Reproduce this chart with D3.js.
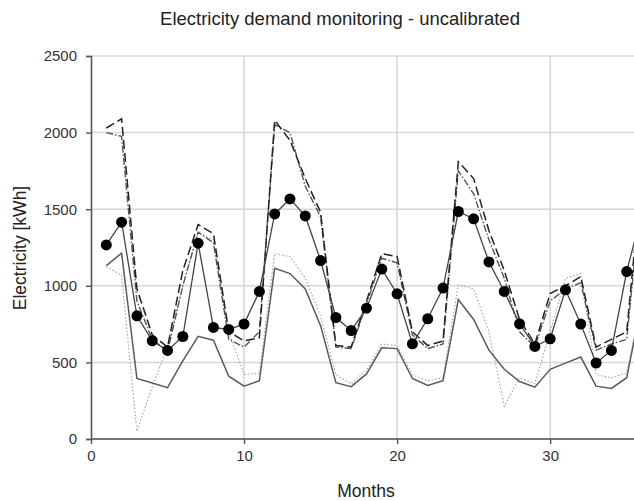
<!DOCTYPE html>
<html><head><meta charset="utf-8">
<script src="https://cdn.jsdelivr.net/npm/d3@7"></script>
<style>body{margin:0;background:#fff}svg{display:block}text{font-family:"Liberation Sans",Arial,sans-serif}</style>
</head><body><svg id="c" width="634" height="501"></svg>
<script>
const months = d3.range(1, 37);
const measured = [1267,1415,804,641,578,669,1278,728,715,750,963,1469,1567,1456,1165,793,708,854,1109,948,621,785,985,1485,1437,1156,963,752,604,654,974,750,496,578,1093,1480];
const simSolid = [1132,1213,395,365,335,510,670,645,410,345,380,1115,1080,980,740,368,342,425,595,590,395,350,380,910,780,580,455,375,338,455,495,535,345,330,400,900];
const simDotted = [1125,1070,50,340,600,1000,1350,1300,700,420,430,1210,1190,1050,800,420,360,450,620,610,420,380,400,1005,980,700,215,400,360,700,1050,1080,420,400,430,900];
const simDash = [2030,2090,980,680,600,1100,1400,1340,700,640,660,2080,1950,1700,1480,610,600,900,1210,1190,700,610,640,1810,1700,1360,1100,780,620,950,1000,1060,600,650,700,1750];
const simDashDot = [2000,1975,900,650,570,1000,1350,1280,650,600,700,2050,2000,1650,1450,600,590,880,1180,1150,680,590,620,1750,1600,1300,1050,700,600,900,980,1020,580,620,650,1650];
const yTicks = [0,500,1000,1500,2000,2500];
const xTicks = [0,10,20,30];

const svg = d3.select("#c");
const x = d3.scaleLinear().domain([0,36]).range([91,642]);
const y = d3.scaleLinear().domain([0,2500]).range([439,56]);

// grid
svg.append("g").selectAll("line").data(yTicks).join("line")
  .attr("x1",91).attr("x2",634).attr("y1",d=>y(d)).attr("y2",d=>y(d))
  .attr("stroke","#d6d6d6").attr("stroke-width",1.5);
svg.append("g").selectAll("line").data(xTicks.filter(d=>d>0)).join("line")
  .attr("x1",d=>x(d)).attr("x2",d=>x(d)).attr("y1",56).attr("y2",439)
  .attr("stroke","#d6d6d6").attr("stroke-width",1.5);

// axes
const fmt = d3.format("d");
const ya = svg.append("g").attr("transform","translate(91,0)")
  .call(d3.axisLeft(y).tickValues(yTicks).tickFormat(fmt).tickSize(5).tickPadding(9));
const xa = svg.append("g").attr("transform","translate(0,439)")
  .call(d3.axisBottom(x).tickValues(xTicks).tickFormat(fmt).tickSize(5).tickPadding(6));
[ya,xa].forEach(a=>{
  a.select(".domain").attr("stroke","#555").attr("stroke-width",1.6);
  a.selectAll(".tick line").attr("stroke","#555").attr("stroke-width",1.4);
  a.selectAll(".tick text").attr("fill","#333").style("font-size","15px").style("font-family","'Liberation Sans',Arial,sans-serif");
});
xa.select(".domain").attr("d","M91,0H634");

svg.append("clipPath").attr("id","pc").append("rect")
  .attr("x",91).attr("y",40).attr("width",543).attr("height",400);
const plot = svg.append("g").attr("clip-path","url(#pc)");
const line = d3.line().x((d,i)=>x(months[i])).y(d=>y(d));

plot.append("path").datum(simDotted).attr("d",line).attr("fill","none")
  .attr("stroke","#a0a0a0").attr("stroke-width",1.1).attr("stroke-dasharray","1.5,2");
plot.append("path").datum(simSolid).attr("d",line).attr("fill","none")
  .attr("stroke","#5a5a5a").attr("stroke-width",1.5);
plot.append("path").datum(simDashDot).attr("d",line).attr("fill","none")
  .attr("stroke","#555").attr("stroke-width",1.4).attr("stroke-dasharray","7,2,1.5,2");
plot.append("path").datum(simDash).attr("d",line).attr("fill","none")
  .attr("stroke","#222").attr("stroke-width",1.5).attr("stroke-dasharray","9,4");
plot.append("path").datum(measured).attr("d",line).attr("fill","none")
  .attr("stroke","#444").attr("stroke-width",1.3);
plot.append("g").selectAll("circle").data(measured).join("circle")
  .attr("cx",(d,i)=>x(months[i])).attr("cy",d=>y(d)).attr("r",5.5).attr("fill","#000");

svg.append("text").attr("x",340).attr("y",25).attr("text-anchor","middle")
  .style("font-size","18.5px").attr("fill","#222").text("Electricity demand monitoring - uncalibrated");
svg.append("text").attr("transform","translate(26,248) rotate(-90)").attr("text-anchor","middle")
  .style("font-size","17.5px").attr("fill","#222").text("Electricity [kWh]");
svg.append("text").attr("x",366).attr("y",497).attr("text-anchor","middle")
  .style("font-size","17.5px").attr("fill","#222").text("Months");
</script></body></html>
